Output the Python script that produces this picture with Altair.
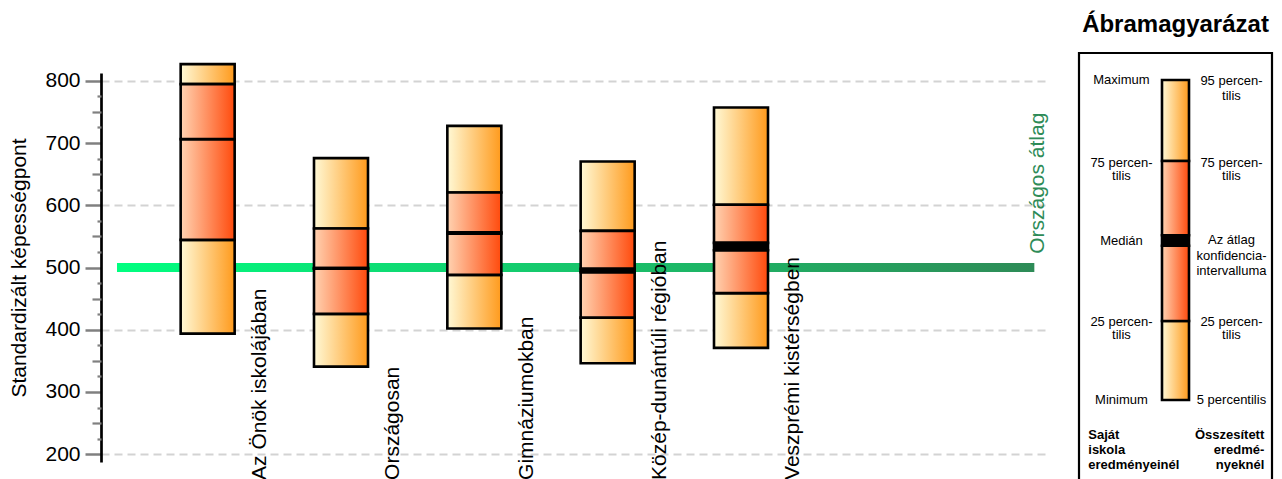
import altair as alt
import pandas as pd

# ---------------- data ----------------
categories = ["Az Önök iskolájában", "Országosan", "Gimnáziumokban",
              "Közép-dunántúli régióban", "Veszprémi kistérségben"]
p_low = [393.8, 340.8, 401.9, 346.2, 370.8]     # minimum / 5th percentile
p25 = [544.4, 425.5, 488.2, 419.5, 458.8]
mid_lo = [706.3, 498.0, 554.5, 492.5, 527.8]    # median / CI lower
mid_hi = [706.3, 499.0, 556.5, 497.8, 539.5]    # median / CI upper
p75 = [794.7, 562.6, 620.4, 558.9, 600.7]
p_high = [826.8, 675.7, 727.6, 670.3, 757.1]   # maximum / 95th percentile
national_avg = 500
avg_label = "Országos átlag"
y_title = "Standardizált képességpont"

legend_title = "Ábramagyarázat"
legend_left = ["Maximum", "75 percen-", "tilis", "Medián", "25 percen-", "tilis", "Minimum"]
legend_right = ["95 percen-", "tilis", "75 percen-", "tilis", "Az átlag", "konfidencia-",
                "intervalluma", "25 percen-", "tilis", "5 percentilis"]
legend_bottom_left = ["Saját", "iskola", "eredményeinél"]
legend_bottom_right = ["Összesített", "eredmé-", "nyeknél"]

FONT = "Liberation Sans"

# ---------------- tables ----------------
seg_rows = []
for i, cat in enumerate(categories):
    idx = i + 1
    seg_rows.append(dict(cat=cat, idx=idx, kind="outer", lo=p_low[i], hi=p25[i]))
    seg_rows.append(dict(cat=cat, idx=idx, kind="inner", lo=p25[i], hi=mid_lo[i]))
    if mid_hi[i] > mid_lo[i]:
        seg_rows.append(dict(cat=cat, idx=idx, kind="band", lo=mid_lo[i], hi=mid_hi[i]))
    seg_rows.append(dict(cat=cat, idx=idx, kind="inner", lo=mid_hi[i], hi=p75[i]))
    seg_rows.append(dict(cat=cat, idx=idx, kind="outer", lo=p75[i], hi=p_high[i]))
seg = pd.DataFrame(seg_rows)
cats = pd.DataFrame(dict(cat=categories, idx=list(range(1, len(categories) + 1))))
avg = pd.DataFrame(dict(v=[national_avg], x0=[0.32], x1=[7.2], label=[avg_label]))

def grad(c0, c1):
    return alt.LinearGradient(gradient="linear",
                              stops=[alt.GradientStop(color=c0, offset=0),
                                     alt.GradientStop(color=c1, offset=1)],
                              x1=0, x2=1, y1=0, y2=0)

outer_grad = grad("#FFF9D6", "#FF9A1C")
inner_grad = grad("#FFD3B2", "#FF4A0C")
green_grad = grad("#00FF80", "#2E8B57")

xs = alt.Scale(domain=[0.2, 7.28], nice=False, zero=False, padding=0)
ys = alt.Scale(domain=[187.5, 812.5], nice=False, zero=False, padding=0)

main_axis = alt.Axis(orient="left", values=list(range(200, 801, 100)), title=y_title,
                     tickSize=16, tickColor="#808080", tickWidth=2.5,
                     labelFontSize=21, labelPadding=5, labelColor="black", labelFont=FONT,
                     titleFontSize=21, titleFontWeight="normal", titleColor="black",
                     titleFont=FONT, titlePadding=15,
                     domainColor="black", domainWidth=2.7, grid=False)
axis50 = alt.Axis(orient="left", values=list(range(250, 800, 100)), title=None,
                  labels=False, domain=False, grid=False, tickSize=9,
                  tickColor="#808080", tickWidth=2.2)
axis25 = alt.Axis(orient="left", values=list(range(225, 800, 50)), title=None,
                  labels=False, domain=False, grid=False, tickSize=4,
                  tickColor="#808080", tickWidth=2.2)
grid_axis = alt.Axis(orient="left", values=[200, 400, 600, 800], title=None,
                     labels=False, domain=False, ticks=False, grid=True,
                     gridColor="#D3D3D3", gridDash=[8, 5], gridWidth=2)

green = alt.Chart(avg).mark_bar(size=9, orient="horizontal", fill=green_grad).encode(
    x=alt.X("x0:Q", scale=xs, axis=None), x2="x1:Q",
    y=alt.Y("v:Q", scale=ys, axis=grid_axis))

outer = alt.Chart(seg).transform_filter(alt.datum.kind == "outer").mark_bar(
    size=54, fill=outer_grad, stroke="black", strokeWidth=2.6).encode(
    x=alt.X("idx:Q", scale=xs, axis=None),
    y=alt.Y("lo:Q", scale=ys, axis=main_axis), y2="hi:Q")

inner = alt.Chart(seg).transform_filter(alt.datum.kind == "inner").mark_bar(
    size=54, fill=inner_grad, stroke="black", strokeWidth=2.6).encode(
    x=alt.X("idx:Q", scale=xs, axis=None),
    y=alt.Y("lo:Q", scale=ys, axis=axis50), y2="hi:Q")

band = alt.Chart(seg).transform_filter(alt.datum.kind == "band").mark_bar(
    size=54, fill="black", stroke="black", strokeWidth=2.6).encode(
    x=alt.X("idx:Q", scale=xs, axis=None),
    y=alt.Y("lo:Q", scale=ys, axis=axis25), y2="hi:Q")

cat_labels = alt.Chart(cats).transform_calculate(
    lx="datum.idx + 0.437", ly="158.7").mark_text(
    angle=270, align="left", baseline="alphabetic", fontSize=21, font=FONT,
    color="black").encode(
    x=alt.X("lx:Q", scale=xs, axis=None),
    y=alt.Y("ly:Q", scale=ys, axis=None), text="cat:N")

avg_text = alt.Chart(avg).transform_calculate(
    lx="7.272", ly="datum.v + 21.9").mark_text(
    angle=270, align="left", baseline="alphabetic", fontSize=21, font=FONT,
    color="#2E8B57").encode(
    x=alt.X("lx:Q", scale=xs, axis=None),
    y=alt.Y("ly:Q", scale=ys, axis=None), text="label:N")

main = alt.layer(green, outer, inner, band, cat_labels, avg_text).resolve_axis(
    y="independent").properties(width=944, height=389)

# ---------------- legend ----------------
lxs = alt.Scale(domain=[0, 1], nice=False, zero=False, padding=0)
lys = alt.Scale(domain=[20, 437], reverse=True, nice=False, zero=False, padding=0)

box = alt.Chart(pd.DataFrame(dict(x0=[0], x1=[1], y0=[0], y1=[460]))).mark_rect(
    fillOpacity=0, stroke="black", strokeWidth=2.2).encode(
    x=alt.X("x0:Q", scale=lxs, axis=None), x2="x1:Q",
    y=alt.Y("y0:Q", scale=lys, axis=None), y2="y1:Q")

leg_seg = pd.DataFrame(dict(kind=["outer", "inner", "band", "inner", "outer"],
                            lo=[27, 108, 182.3, 192.7, 268], hi=[108, 182.3, 192.7, 268, 347]))
leg_seg["x"] = 0.5

def leg_bar(kind, fill):
    return alt.Chart(leg_seg).transform_filter(alt.datum.kind == kind).mark_bar(
        size=27, fill=fill, stroke="black", strokeWidth=2.6).encode(
        x=alt.X("x:Q", scale=lxs, axis=None),
        y=alt.Y("lo:Q", scale=lys, axis=None), y2="hi:Q")

def leg_text(texts, rows, xpos, align, weight, size=13, base="middle"):
    df = pd.DataFrame(dict(t=texts, y=rows))
    df["x"] = xpos
    return alt.Chart(df).mark_text(align=align, baseline=base, fontSize=size,
                                   font=FONT, fontWeight=weight, color="black").encode(
        x=alt.X("x:Q", scale=lxs, axis=None),
        y=alt.Y("y:Q", scale=lys, axis=None), text="t:N")

legend = alt.layer(
    box,
    leg_bar("outer", outer_grad), leg_bar("inner", inner_grad), leg_bar("band", "black"),
    leg_text([legend_title], [-21], 0.5, "center", "bold", size=24, base="alphabetic"),
    leg_text(legend_left, [27, 109.5, 122.5, 187.7, 269.2, 282.2, 347], 0.22, "center", "normal"),
    leg_text(legend_right, [28.2, 42.5, 109.5, 122.5, 187, 202.5, 217.5, 269.2, 282.2, 347],
             0.79, "center", "normal"),
    leg_text(legend_bottom_left, [382, 397, 412], 0.048, "left", "bold"),
    leg_text(legend_bottom_right, [382, 397, 412], 0.96, "right", "bold"),
).properties(width=193, height=417)

chart = alt.hconcat(main, legend, spacing=34, bounds="flush").properties(
    padding={"left": 0, "top": 5, "right": 0, "bottom": 0}
).configure(font=FONT).configure_view(stroke="transparent", strokeWidth=0)

chart.save("out.html", embed_options={"renderer": "svg", "actions": False})
